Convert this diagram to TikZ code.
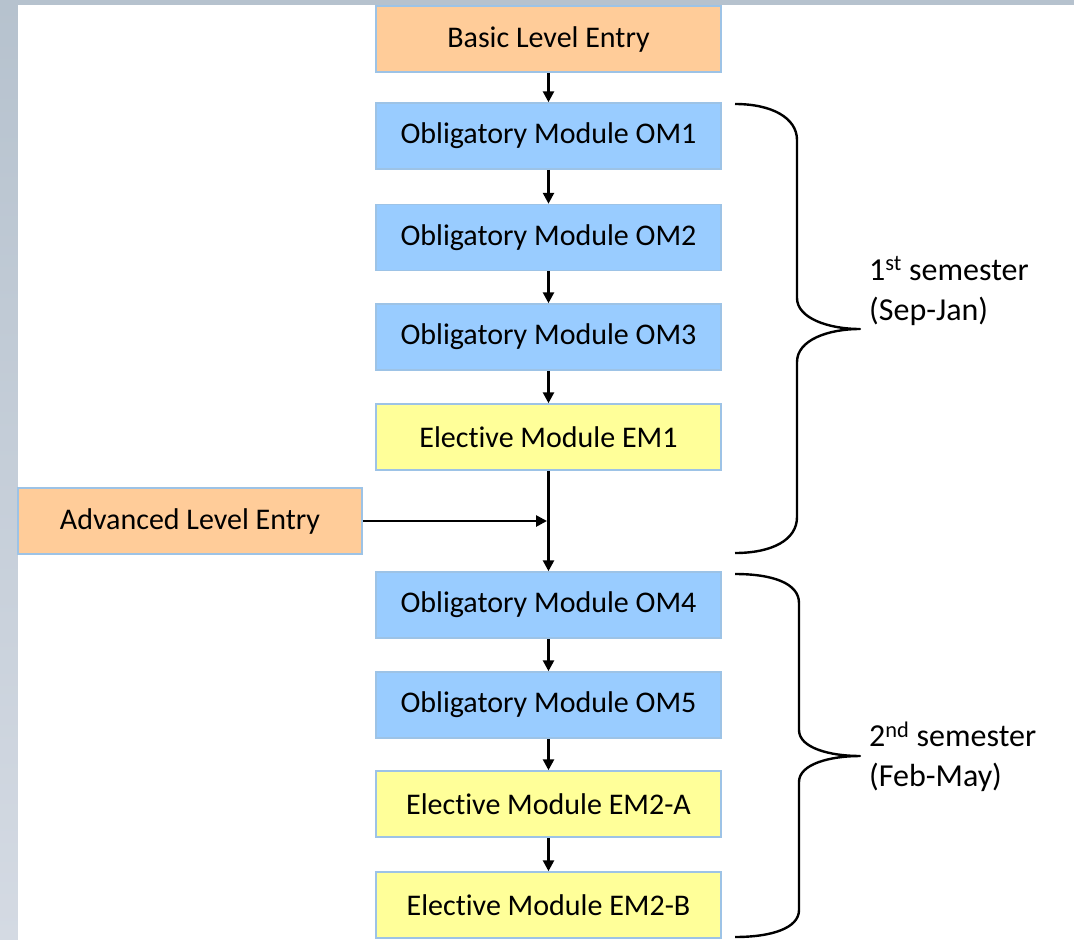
\documentclass[tikz,border=0pt]{standalone}
\usepackage{fontspec}
\setmainfont{Carlito}[Ligatures={NoCommon}]
\usetikzlibrary{arrows.meta}
\definecolor{bgtop}{HTML}{B6C2CE}
\definecolor{bgbot}{HTML}{D4DAE3}
\definecolor{boxedge}{HTML}{9DC3E6}
\definecolor{orangefill}{HTML}{FFCC99}
\definecolor{bluefill}{HTML}{99CCFF}
\definecolor{yellowfill}{HTML}{FFFF99}
\tikzset{
  modbox/.style={draw=boxedge, line width=1.5pt, minimum width=345pt, minimum height=66pt,
    inner sep=0pt, font=\fontsize{30}{36}\selectfont, text=black},
  entrybox/.style={modbox, fill=orangefill},
  oblbox/.style={modbox, fill=bluefill},
  elebox/.style={modbox, fill=yellowfill},
  flow/.style={line width=2.6pt, -{Triangle[length=11pt,width=11pt]}},
  bracepath/.style={line width=2.4pt, line join=round},
  semlabel/.style={anchor=west, align=left, inner sep=0pt, font=\fontsize{32}{40}\selectfont}
}
\begin{document}
\begin{tikzpicture}[x=1pt,y=-1pt]
\useasboundingbox (0,0) rectangle (1074,940);
\shade[top color=bgtop, bottom color=bgbot] (0,0) rectangle (1074,940);
\fill[white] (18,5) rectangle (1074,940);

\node[entrybox] (basic) at (548.5,39) {Basic Level Entry};
\node[oblbox] (om1) at (548.5,136) {Obligatory Module OM1};
\node[oblbox] (om2) at (548.5,237.5) {Obligatory Module OM2};
\node[oblbox] (om3) at (548.5,337) {Obligatory Module OM3};
\node[elebox] (em1) at (548.5,437) {Elective Module EM1};
\node[entrybox, minimum width=344pt] (adv) at (190,521) {Advanced Level Entry};
\node[oblbox] (om4) at (548.5,605) {Obligatory Module OM4};
\node[oblbox] (om5) at (548.5,705) {Obligatory Module OM5};
\node[elebox] (em2a) at (548.5,804) {Elective Module EM2-A};
\node[elebox] (em2b) at (548.5,905) {Elective Module EM2-B};

\coordinate (join) at (547,521);

\draw[flow] (basic) -- (om1);
\draw[flow] (om1) -- (om2);
\draw[flow] (om2) -- (om3);
\draw[flow] (om3) -- (em1);
\draw[flow] (em1) -- (om4);
\draw[flow] (adv.east) -- (join);
\draw[flow] (om4) -- (om5);
\draw[flow] (om5) -- (em2a);
\draw[flow] (em2a) -- (em2b);

% braces
\draw[bracepath] (735,104) .. controls (772,104) and (797,118) .. (797,140)
  -- (797,298) .. controls (797,318) and (828,329) .. (860,329)
  .. controls (828,329) and (797,340) .. (797,362)
  -- (797,517) .. controls (797,540) and (772,553) .. (735,553);
\draw[bracepath] (735,574) .. controls (772,574) and (799,583) .. (799,603)
  -- (799,730) .. controls (799,748) and (830,756) .. (860,756)
  .. controls (830,756) and (799,764) .. (799,782)
  -- (799,910) .. controls (799,928) and (772,937) .. (735,937);

\node[semlabel] (sem1) at (869,291) {1\textsuperscript{st} semester\\(Sep-Jan)};
\node[semlabel] (sem2) at (869,757) {2\textsuperscript{nd} semester\\(Feb-May)};
\end{tikzpicture}
\end{document}
